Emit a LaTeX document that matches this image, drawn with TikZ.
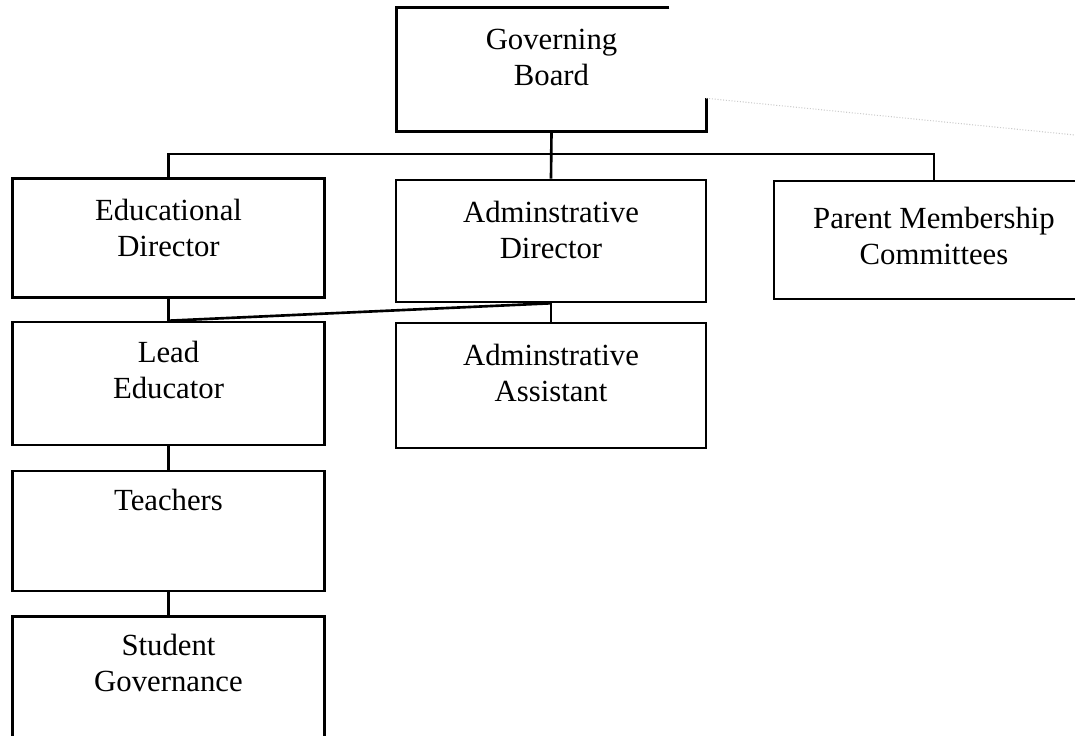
\documentclass[tikz,border=0pt]{standalone}
\usepackage{fontspec}
\setmainfont{Liberation Serif}
\usetikzlibrary{positioning, calc}

\begin{document}
\begin{tikzpicture}[x=0.02cm, y=-0.02cm,
	box/.style={shape=rectangle, draw, line width=1.5pt, minimum width=6.24cm, minimum height=2.42cm, inner sep=0pt},
	txt/.style={anchor=north, align=center, inner sep=0pt, font=\fontsize{17.5}{20.5}\selectfont},
	wire/.style={line width=1.5pt}]
	\useasboundingbox (0, 0) rectangle (1075, 736);
	\clip (0, 0) rectangle (1075, 736);
	% Boxes:
	\node[box, draw=none, minimum width=6.14cm] (board) at (551.5, 69.5){};
	\node[box, minimum height=2.38cm] (edudir) at (168.5, 238){};
	\node[box, minimum width=6.2cm, minimum height=2.44cm] (admdir) at (551, 241){};
	\node[box, minimum width=6.4cm, minimum height=2.36cm] (pmc) at (934, 240){};
	\node[box, minimum height=2.46cm] (lead) at (168.5, 383.5){};
	\node[box, minimum width=6.2cm, minimum height=2.5cm] (admasst) at (551, 385.5){};
	\node[box, minimum height=2.4cm] (teach) at (168.5, 531){};
	\node[box] (student) at (168.5, 677){};
	% Texts:
	\node[txt, below=12pt of board.north] {Governing\\Board};
	\node[txt, below=12.5pt of edudir.north] {Educational\\Director};
	\node[txt, below=12.5pt of admdir.north] {Adminstrative\\Director};
	\node[txt, below=15.5pt of pmc.north] {Parent Membership\\Committees};
	\node[txt, below=11.3pt of lead.north] {Lead\\Educator};
	\node[txt, below=12.5pt of admasst.north] {Adminstrative\\Assistant};
	\node[txt, below=10.8pt of teach.north] {Teachers};
	\node[txt, below=10.8pt of student.north] {Student\\Governance};
	% Open outline of the board box:
	\draw[wire] ($(board.north east)+(-37, 0)$) -- (board.north west) -- (board.south west) -- (board.south east) -- ++(0, -33) coordinate (tick);
	\draw[gray!40, densely dotted, line width=0.6pt] (tick) -- (1075, 135);
	% Wires:
	\coordinate (bar) at (551.5, 154);
	\draw[wire] (board.south) -- (admdir.north);
	\draw[wire] (edudir.north) |- (bar) -| (pmc.north);
	\draw[wire] (edudir.south) -- (lead.north);
	\draw[wire] (lead.north) -- (admdir.south);
	\draw[wire] (admdir.south) -- (admasst.north);
	\draw[wire] (lead.south) -- (teach.north);
	\draw[wire] (teach.south) -- (student.north);
\end{tikzpicture}
\end{document}
